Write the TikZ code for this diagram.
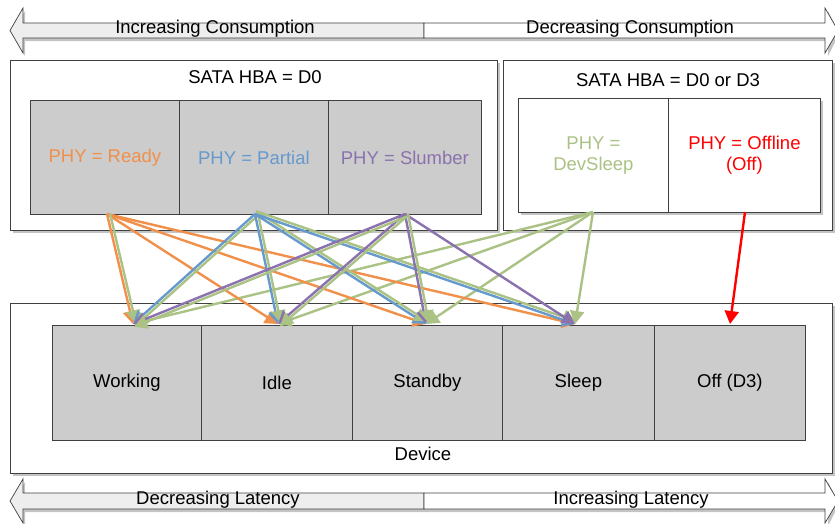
\documentclass[tikz,border=0pt]{standalone}
\usepackage{fontspec}
\setmainfont{Liberation Sans}
\usetikzlibrary{arrows.meta,calc}
\definecolor{cOrange}{HTML}{F0904A}
\definecolor{cBlue}{HTML}{6699CC}
\definecolor{cPurple}{HTML}{8B72AE}
\definecolor{cGreen}{HTML}{ABC285}
\definecolor{cRed}{HTML}{FF0000}
\definecolor{boxgray}{HTML}{CCCCCC}
\definecolor{edgegray}{HTML}{404040}
\definecolor{shadowgray}{HTML}{C4C4C4}
\definecolor{arrowfill}{HTML}{EEEEEE}
\newcommand\greenpair[2]{\draw[conn, cGreen] ($(#1)!3pt!90:(#2)$) -- ($(#2)!3pt!-90:(#1)$);}
\begin{document}
\begin{tikzpicture}[x=1pt,y=-1pt,
  txt/.style={font=\fontsize{18.5}{21}\selectfont},
  outerbox/.style={draw=edgegray, line width=0.8pt, fill=white, anchor=north west, inner sep=0pt},
  statebox/.style={draw=edgegray, line width=0.8pt, fill=boxgray, anchor=north west, inner sep=0pt, align=center, txt},
  whitebox/.style={statebox, fill=white},
  conn/.style={line width=2.4pt, -{Triangle[width=14pt,length=13pt]}},
  bigarrow/.style={draw=edgegray, line width=0.7pt}
]
\useasboundingbox (0,0) rectangle (835,523);

% ---------- top arrow ----------
\fill[shadowgray] (12,34) -- (25,11) -- (25,26) -- (828,26) -- (828,11) -- (839,34) -- (828,56) -- (828,41) -- (25,41) -- (25,56) -- cycle;
\filldraw[bigarrow, fill=arrowfill] (10,30.5) -- (23,8) -- (23,23) -- (424,23) -- (424,38) -- (23,38) -- (23,53) -- cycle;
\filldraw[bigarrow, fill=white] (424,23) -- (825,23) -- (825,8) -- (838,30.5) -- (825,53) -- (825,38) -- (424,38) -- cycle;
\node[txt] (incC) at (215,29) {Increasing Consumption};
\node[txt] (decC) at (630,29) {Decreasing Consumption};

% ---------- bottom arrow ----------
\fill[shadowgray] (12,504) -- (25,482) -- (25,496) -- (828,496) -- (828,482) -- (839,504) -- (828,526) -- (828,512) -- (25,512) -- (25,526) -- cycle;
\filldraw[bigarrow, fill=arrowfill] (10,501) -- (23,479) -- (23,493) -- (424,493) -- (424,509) -- (23,509) -- (23,523) -- cycle;
\filldraw[bigarrow, fill=white] (424,493) -- (825,493) -- (825,479) -- (838,501) -- (825,523) -- (825,509) -- (424,509) -- cycle;
\node[txt] (decL) at (218,500) {Decreasing Latency};
\node[txt] (incL) at (631,500) {Increasing Latency};

% ---------- shadows of outer boxes ----------
\fill[shadowgray] (13,63) rectangle (500,233);
\fill[shadowgray] (506,63) rectangle (835,233);
\fill[shadowgray] (13,306) rectangle (835,476);

% ---------- outer boxes ----------
\node[outerbox, minimum width=487, minimum height=170] (hba1) at (10,60) {};
\node[outerbox, minimum width=329, minimum height=170] (hba2) at (503,60) {};
\node[outerbox, minimum width=822, minimum height=170] (dev) at (10,303) {};
\node[txt] (hba1t) at (255,77) {SATA HBA = D0};
\node[txt] (hba2t) at (668,80) {SATA HBA = D0 or D3};
\node[txt] (devt) at (423,454) {Device};

% ---------- PHY states ----------
\fill[shadowgray] (521,101) rectangle (823,215);
\node[statebox, minimum width=149, minimum height=114, text=cOrange] (ready) at (30,100) {PHY = Ready};
\node[statebox, minimum width=149, minimum height=114, text=cBlue] (partial) at (179,100) {PHY = Partial};
\node[statebox, minimum width=153, minimum height=114, text=cPurple] (slumber) at (328,100) {PHY = Slumber};
\node[whitebox, minimum width=150, minimum height=114, text=cGreen] (devsleep) at (518,98) {PHY =\\DevSleep};
\node[whitebox, minimum width=152, minimum height=114, text=cRed] (offline) at (668,98) {PHY = Offline\\(Off)};

% ---------- device states ----------
\node[statebox, minimum width=149, minimum height=115] (working) at (52,325) {Working};
\node[statebox, minimum width=151, minimum height=115] (idle) at (201,325) {Idle};
\node[statebox, minimum width=150, minimum height=115] (standby) at (352,325) {Standby};
\node[statebox, minimum width=152, minimum height=115] (sleep) at (502,325) {Sleep};
\node[statebox, minimum width=151, minimum height=115] (off) at (654,325) {Off (D3)};

% ---------- connector end points ----------
\coordinate (sR) at (107,214);
\coordinate (sP) at (255,214);
\coordinate (sS) at (405,214);
\coordinate (sD) at (593,212);
\coordinate (sO) at (745,212);
\coordinate (tW) at (133,324);
\coordinate (tI) at (278,324);
\coordinate (tSt) at (426,324);
\coordinate (tSl) at (575,324);
\coordinate (tO) at (730,324);

% ---------- connectors ----------
\foreach \t in {tW,tI,tSt,tSl} {
  \draw[conn, cGreen] (sD) -- (\t);
}
\foreach \t in {tW,tI,tSt,tSl} {
  \draw[conn, cOrange] (sR) -- (\t);
}
\greenpair{sR}{tW}
\foreach \t in {tW,tI,tSt,tSl} {
  \draw[conn, cBlue] (sP) -- (\t);
  \greenpair{sP}{\t}
}
\foreach \t in {tW,tI,tSt,tSl} {
  \draw[conn, cPurple] (sS) -- (\t);
}
\foreach \t in {tW,tI,tSt} {
  \greenpair{sS}{\t}
}
\draw[conn, cRed] (sO) -- (tO);
\end{tikzpicture}
\end{document}
